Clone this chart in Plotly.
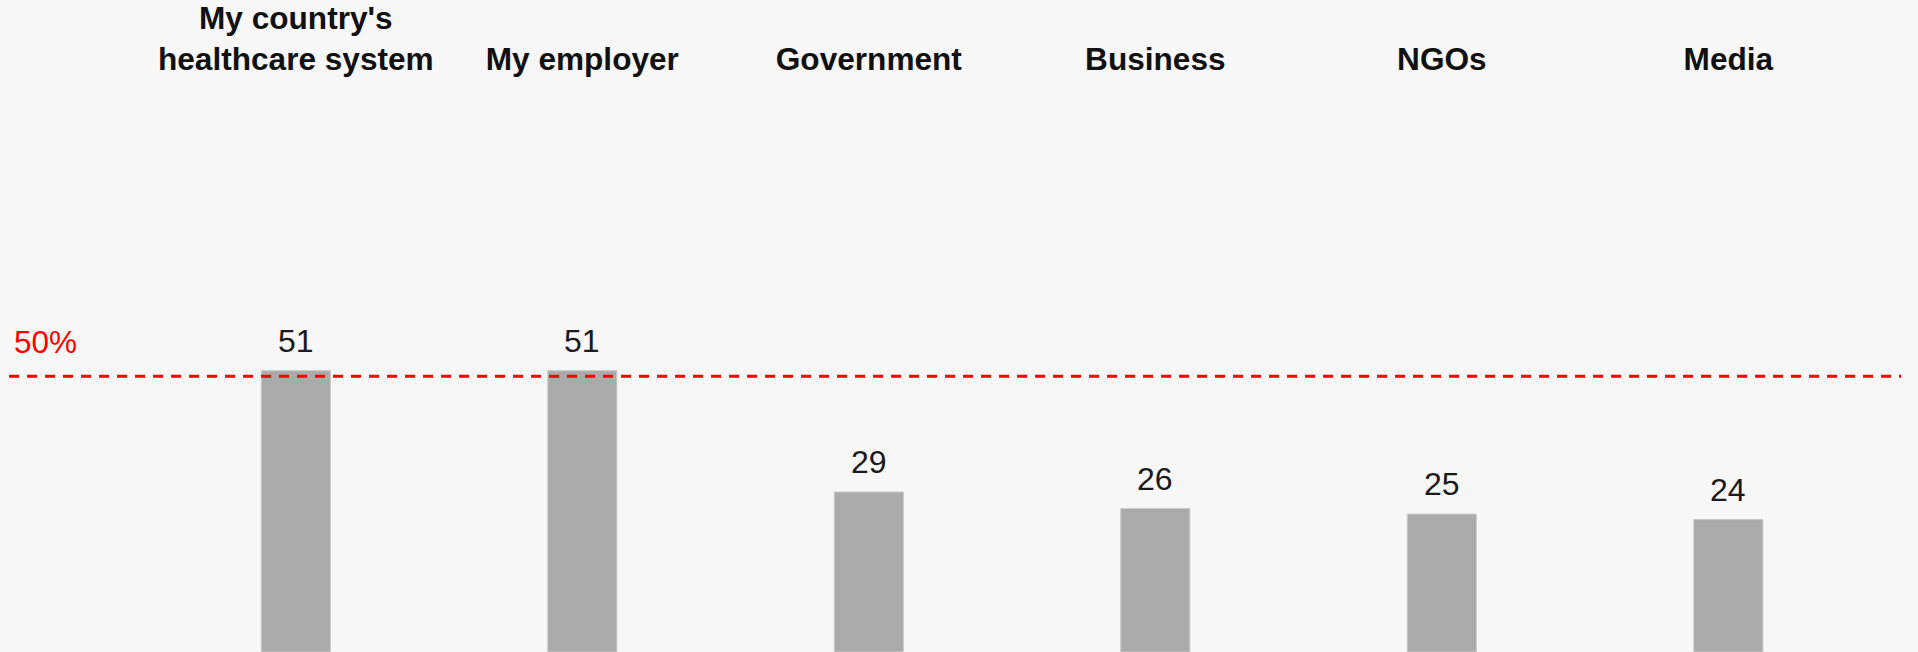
import plotly.graph_objects as go

# Share of respondents who trust each institution (%)
categories = ["My country's<br>healthcare system", "My employer", "Government",
              "Business", "NGOs", "Media"]
values = [51, 51, 29, 26, 25, 24]

threshold = 50
threshold_label = "50%"

W, H = 1918, 652
TOP_MARGIN = 72
PX_PER_UNIT = 5.564
Y_MAX = (H - TOP_MARGIN) / PX_PER_UNIT

BG = "#f7f7f7"
FONT = "Liberation Sans, Arial, Helvetica, sans-serif"

fig = go.Figure(
    go.Bar(
        x=categories,
        y=values,
        width=0.241,
        marker=dict(color="#aaaaaa", line=dict(color="#c8c8c8", width=1)),
        hoverinfo="skip",
    )
)

# value labels above each bar
for cat, val in zip(categories, values):
    fig.add_annotation(
        x=cat, y=val, text=str(val), showarrow=False,
        xanchor="center", yanchor="bottom", yshift=10,
        font=dict(family=FONT, size=32, color="#1a1a1a"),
    )

# 50% reference line
fig.add_shape(
    type="line", xref="paper", yref="y",
    x0=9 / W, x1=1901 / W, y0=threshold, y1=threshold,
    line=dict(color="#ff0000", width=3, dash="10px,8px"),
    layer="above",
)
fig.add_annotation(
    xref="paper", yref="y", x=12 / W, y=threshold,
    text=threshold_label, showarrow=False,
    xanchor="left", yanchor="bottom", yshift=14,
    font=dict(family=FONT, size=31.5, color="#ff0000"),
)

fig.update_layout(
    width=W, height=H, autosize=False,
    margin=dict(l=0, r=0, t=TOP_MARGIN, b=0, pad=0),
    paper_bgcolor=BG, plot_bgcolor=BG,
    showlegend=False,
    xaxis=dict(
        side="top", type="category",
        range=[-1.0325, 5.662],
        showgrid=False, zeroline=False, showline=False, ticks="",
        tickfont=dict(family=FONT, size=31.6, color="#111111", weight="bold"),
        fixedrange=True,
    ),
    yaxis=dict(
        range=[0, Y_MAX], visible=False, fixedrange=True,
    ),
)

fig.write_html("out.html", config={"displayModeBar": False})
